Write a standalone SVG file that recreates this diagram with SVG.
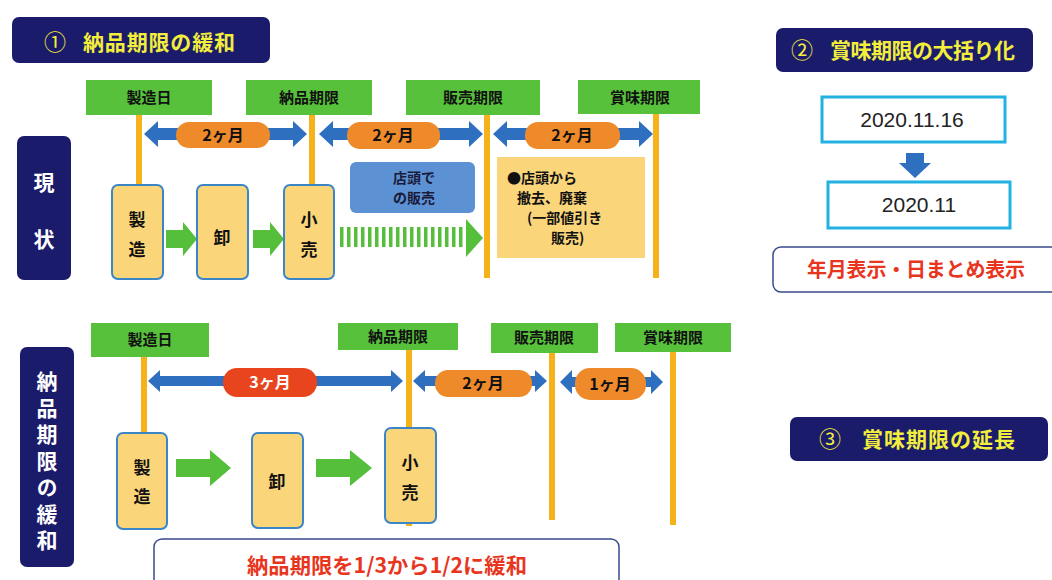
<svg xmlns="http://www.w3.org/2000/svg" width="1052" height="580" viewBox="0 0 1052 580">
<style>
.jp{font-family:'Noto Sans CJK JP','Noto Sans CJK SC',sans-serif;font-weight:700}
.title{fill:#1b1b6b}
.tt{fill:#f2ee3c;font-size:21px}
.num{font-family:'Noto Sans CJK JP',sans-serif;font-weight:400;fill:#f2ee3c;font-size:22px}
.side{fill:#1b1b6b}
.st{fill:#ffffff;font-size:21px;writing-mode:tb;glyph-orientation-vertical:0}
.lbl{fill:#57c13b}
.lt{fill:#111;font-size:15px}
.vl{stroke:#f5b21b;stroke-width:6}
.darr{fill:#2f6fc0}
.pill{fill:#ef8a2b}
.pt{fill:#111;font-size:16px}
.proc{fill:#fbd57a;stroke:#3b86c6;stroke-width:2}
.pr{fill:#111;font-size:17px}
.garr{fill:#55bf3b}
.date{fill:#fff;stroke:#22b2e2;stroke-width:3}
.dt{font-family:'Liberation Sans',Arial,sans-serif;font-size:21px;fill:#222}
.note{fill:#fff;stroke:#3a4a8a;stroke-width:1.5}
.red{fill:#e8361e}
</style>
<rect width="1052" height="580" fill="#ffffff"/>

<g id="title1"><rect class="title" x="12" y="17" width="258" height="46" rx="7"/><text class="num" x="44" y="50">①</text><text class="jp tt" x="83" y="50" textLength="152" lengthAdjust="spacing">納品期限の緩和</text></g>
<g id="title2"><rect class="title" x="776" y="28" width="257" height="44" rx="7"/><text class="num" x="791" y="58">②</text><text class="jp tt" x="830" y="58" textLength="185" lengthAdjust="spacing">賞味期限の大括り化</text></g>
<g id="title3"><rect class="title" x="790" y="417" width="258" height="44" rx="7"/><text class="num" x="819" y="447">③</text><text class="jp tt" x="862" y="447" textLength="153" lengthAdjust="spacing">賞味期限の延長</text></g>

<g id="side-current"><rect class="side" x="17" y="136" width="54" height="144" rx="7"/>
<text class="jp st" x="44" y="172" letter-spacing="36">現状</text></g>

<g id="side-relax"><rect class="side" x="20" y="347" width="54" height="220" rx="7"/>
<text class="jp st" x="47" y="371" letter-spacing="5.5">納品期限の緩和</text></g>

<g id="connectors">
<line class="vl" x1="139" y1="115" x2="139" y2="186"/>
<line class="vl" x1="312" y1="115" x2="312" y2="186"/>
<line class="vl" x1="487" y1="115" x2="487" y2="278"/>
<line class="vl" x1="656" y1="114" x2="656" y2="278"/>
<line class="vl" x1="144" y1="357" x2="144" y2="434"/>
<line class="vl" x1="409" y1="350" x2="409" y2="526"/>
<line class="vl" x1="552" y1="352" x2="552" y2="520"/>
<line class="vl" x1="673" y1="352" x2="673" y2="525"/>

<path class="darr" d="M144,134 L158,121 L158,128 L293,128 L293,121 L307,134 L293,147 L293,140 L158,140 L158,147 Z"/>
<path class="darr" d="M319,134 L333,121 L333,128 L469,128 L469,121 L483,134 L469,147 L469,140 L333,140 L333,147 Z"/>
<path class="darr" d="M493,134 L507,121 L507,128 L639,128 L639,121 L653,134 L639,147 L639,140 L507,140 L507,147 Z"/>

<path class="darr" d="M148,381 L160,370 L160,376 L391,376 L391,370 L403,381 L391,392 L391,386 L160,386 L160,392 Z"/>
<path class="darr" d="M413,381 L425,370 L425,376 L535,376 L535,370 L547,381 L535,392 L535,386 L425,386 L425,392 Z"/>
<path class="darr" d="M560,382 L572,370 L572,377 L651,377 L651,370 L663,382 L651,394 L651,387 L572,387 L572,394 Z"/>

<path class="garr" d="M166,230 L183,230 L183,222 L197,239 L183,256 L183,248 L166,248 Z"/>
<path class="garr" d="M253,230 L270,230 L270,222 L284,239 L270,256 L270,248 L253,248 Z"/>
<line x1="340" y1="237" x2="466" y2="237" stroke="#55bf3b" stroke-width="20" stroke-dasharray="3.5 3.5"/>
<path class="garr" d="M466,219 L483,238 L466,257 Z"/>

<path class="garr" d="M176,459 L210,459 L210,450 L231,468 L210,486 L210,477 L176,477 Z"/>
<path class="garr" d="M316,459 L350,459 L350,450 L372,468 L350,486 L350,477 L316,477 Z"/>

<path class="darr" d="M906,153 L924,153 L924,163 L931,163 L915,178 L899,163 L906,163 Z"/>
</g>

<g id="lbl-seizo1"><rect class="lbl" x="86" y="80" width="126" height="35"/><text class="jp lt" x="149" y="103" text-anchor="middle">製造日</text></g>
<g id="lbl-nohin1"><rect class="lbl" x="246" y="80" width="126" height="35"/><text class="jp lt" x="309" y="103" text-anchor="middle">納品期限</text></g>
<g id="lbl-hanbai1"><rect class="lbl" x="406" y="80" width="134" height="35"/><text class="jp lt" x="473" y="103" text-anchor="middle">販売期限</text></g>
<g id="lbl-shomi1"><rect class="lbl" x="578" y="80" width="122" height="34"/><text class="jp lt" x="640" y="103" text-anchor="middle">賞味期限</text></g>

<g id="pill1"><rect class="pill" x="176" y="122" width="94" height="26" rx="13"/><text class="jp pt" x="223" y="141" text-anchor="middle">2ヶ月</text></g>
<g id="pill2"><rect class="pill" x="347" y="122" width="93" height="27" rx="13"/><text class="jp pt" x="393" y="141" text-anchor="middle">2ヶ月</text></g>
<g id="pill3"><rect class="pill" x="525" y="122" width="95" height="27" rx="13"/><text class="jp pt" x="572" y="141" text-anchor="middle">2ヶ月</text></g>

<g id="shop-sale"><rect x="350" y="162" width="125" height="51" rx="6" fill="#5c92d3"/>
<text class="jp" font-size="14" fill="#1a1a3a" x="414" y="183" text-anchor="middle">店頭で</text>
<text class="jp" font-size="14" fill="#1a1a3a" x="414" y="203" text-anchor="middle">の販売</text></g>

<g id="removal"><rect x="497" y="157" width="148" height="101" fill="#fbd57a"/>
<text class="jp" font-size="14" fill="#111"><tspan x="507" y="183">●店頭から</tspan><tspan x="517" y="203">撤去、廃棄</tspan><tspan x="527" y="223">(一部値引き</tspan><tspan x="551" y="243">販売)</tspan></text></g>

<g id="proc-seizo1"><rect class="proc" x="112" y="185" width="51" height="94" rx="6"/><text class="jp pr" x="137" y="226" text-anchor="middle">製</text><text class="jp pr" x="137" y="256" text-anchor="middle">造</text></g>
<g id="proc-oroshi1"><rect class="proc" x="197" y="185" width="51" height="94" rx="6"/><text class="jp pr" x="222" y="244" text-anchor="middle">卸</text></g>
<g id="proc-kouri1"><rect class="proc" x="284" y="185" width="50" height="94" rx="6"/><text class="jp pr" x="309" y="226" text-anchor="middle">小</text><text class="jp pr" x="309" y="256" text-anchor="middle">売</text></g>

<g id="lbl-seizo2"><rect class="lbl" x="91" y="323" width="118" height="34"/><text class="jp lt" x="150" y="345" text-anchor="middle">製造日</text></g>
<g id="lbl-nohin2"><rect class="lbl" x="338" y="323" width="120" height="27"/><text class="jp lt" x="398" y="342" text-anchor="middle">納品期限</text></g>
<g id="lbl-hanbai2"><rect class="lbl" x="491" y="323" width="107" height="30"/><text class="jp lt" x="544" y="343" text-anchor="middle">販売期限</text></g>
<g id="lbl-shomi2"><rect class="lbl" x="615" y="323" width="116" height="29"/><text class="jp lt" x="673" y="343" text-anchor="middle">賞味期限</text></g>

<g id="pill4"><rect x="223" y="368" width="94" height="29" rx="14" fill="#e8441d"/><text class="jp pt" style="fill:#fff" x="270" y="388" text-anchor="middle">3ヶ月</text></g>
<g id="pill5"><rect class="pill" x="435" y="370" width="97" height="27" rx="13"/><text class="jp pt" x="483" y="389" text-anchor="middle">2ヶ月</text></g>
<g id="pill6"><rect class="pill" x="575" y="368" width="71" height="32" rx="15"/><text class="jp pt" x="610" y="390" text-anchor="middle">1ヶ月</text></g>

<g id="proc-seizo2"><rect class="proc" x="117" y="433" width="50" height="96" rx="6"/><text class="jp pr" x="142" y="474" text-anchor="middle">製</text><text class="jp pr" x="142" y="503" text-anchor="middle">造</text></g>
<g id="proc-oroshi2"><rect class="proc" x="252" y="433" width="51" height="95" rx="6"/><text class="jp pr" x="277" y="488" text-anchor="middle">卸</text></g>
<g id="proc-kouri2"><rect class="proc" x="385" y="428" width="51" height="95" rx="6"/><text class="jp pr" x="410" y="469" text-anchor="middle">小</text><text class="jp pr" x="410" y="499" text-anchor="middle">売</text></g>

<g id="note-relax"><rect class="note" x="154" y="539" width="465" height="50" rx="8"/><text class="jp red" font-size="21" x="247" y="573" textLength="280" lengthAdjust="spacingAndGlyphs">納品期限を1/3から1/2に緩和</text></g>

<g id="date1"><rect class="date" x="822" y="97" width="183" height="45"/><text class="dt" x="912" y="127" text-anchor="middle">2020.11.16</text></g>
<g id="date2"><rect class="date" x="828" y="182" width="182" height="46"/><text class="dt" x="919" y="212" text-anchor="middle">2020.11</text></g>
<g id="note-ym"><rect class="note" x="773" y="247" width="290" height="45" rx="8"/><text class="jp red" font-size="20" x="807" y="277" textLength="218" lengthAdjust="spacing">年月表示・日まとめ表示</text></g>
</svg>
